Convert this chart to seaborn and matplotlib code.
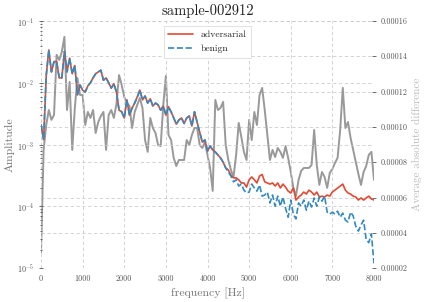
import numpy as np
import matplotlib
matplotlib.use("Agg")
import matplotlib.pyplot as plt
import matplotlib.ticker as mticker
import seaborn as sns

# ---- data ----
freq_step = 62.5
adversarial = [
    2.1e-3, 1.2e-3, 1.3e-2, 3.4e-2, 1.5e-2, 2.2e-2, 2.2e-2, 1.2e-2, 1.2e-2, 3.2e-2,
    1.5e-2, 2.5e-2, 1.4e-2, 1.9e-2, 6.4e-3, 9.2e-3, 7.6e-3, 7.1e-3, 8.9e-3, 1.0e-2,
    1.2e-2, 1.4e-2, 1.5e-2, 1.6e-2, 1.1e-2, 1.2e-2, 1.0e-2, 8.2e-3, 9.6e-3, 7.1e-3,
    3.6e-3, 3.4e-3, 2.7e-3, 5.3e-3, 3.0e-3, 3.9e-3, 4.7e-3, 5.9e-3, 7.6e-3, 5.3e-3,
    6.1e-3, 4.7e-3, 5.5e-3, 4.2e-3, 4.7e-3, 4.4e-3, 3.6e-3, 4.2e-3, 3.0e-3, 4.1e-3,
    3.4e-3, 2.7e-3, 2.15e-3, 2.5e-3, 2.7e-3, 2.2e-3, 2.7e-3, 2.9e-3, 2.0e-3, 3.4e-3,
    2.3e-3, 1.6e-3, 1.1e-3, 1.19e-3, 7.9e-4, 9.5e-4, 8.2e-4, 7.6e-4, 6.8e-4, 6.1e-4,
    5.2e-4, 4.2e-4, 3.9e-4, 3.2e-4, 2.9e-4, 2.9e-4, 2.7e-4, 2.4e-4, 2.4e-4, 2.06e-4,
    2.7e-4, 3.0e-4, 2.7e-4, 2.4e-4, 3.1e-4, 3.3e-4, 2.5e-4, 2.4e-4, 2.3e-4, 2.4e-4,
    2.14e-4, 2.4e-4, 1.99e-4, 2.3e-4, 2.06e-4, 1.77e-4, 1.65e-4, 1.99e-4, 1.27e-4, 1.42e-4,
    1.53e-4, 1.71e-4, 1.59e-4, 1.84e-4, 1.71e-4, 1.53e-4, 1.71e-4, 1.42e-4, 1.47e-4, 1.42e-4,
    1.53e-4, 1.47e-4, 1.71e-4, 1.84e-4, 1.99e-4, 2.14e-4, 2.3e-4, 1.84e-4, 1.65e-4, 1.59e-4,
    1.47e-4, 1.42e-4, 1.27e-4, 1.37e-4, 1.27e-4, 1.37e-4, 1.47e-4, 1.32e-4, 1.27e-4,
]
benign = [
    2.1e-3, 1.2e-3, 1.3e-2, 3.4e-2, 1.5e-2, 2.2e-2, 2.2e-2, 1.2e-2, 1.2e-2, 3.2e-2,
    1.5e-2, 2.5e-2, 1.4e-2, 1.9e-2, 6.4e-3, 9.2e-3, 7.6e-3, 7.1e-3, 8.9e-3, 1.0e-2,
    1.2e-2, 1.4e-2, 1.5e-2, 1.6e-2, 1.1e-2, 1.2e-2, 1.0e-2, 8.2e-3, 9.6e-3, 7.1e-3,
    3.6e-3, 3.4e-3, 2.7e-3, 5.3e-3, 3.0e-3, 3.9e-3, 4.7e-3, 5.9e-3, 7.6e-3, 5.3e-3,
    6.1e-3, 4.7e-3, 5.5e-3, 4.2e-3, 4.7e-3, 4.4e-3, 3.6e-3, 4.2e-3, 3.0e-3, 4.1e-3,
    3.4e-3, 2.7e-3, 2.15e-3, 2.5e-3, 2.7e-3, 2.2e-3, 2.7e-3, 2.9e-3, 2.0e-3, 3.4e-3,
    2.3e-3, 1.6e-3, 1.1e-3, 1.19e-3, 7.9e-4, 9.5e-4, 8.2e-4, 7.6e-4, 6.8e-4, 6.1e-4,
    5.2e-4, 4.2e-4, 3.6e-4, 3.1e-4, 2.5e-4, 2.7e-4, 2.14e-4, 2.3e-4, 1.84e-4, 1.65e-4,
    1.71e-4, 2.3e-4, 1.99e-4, 1.77e-4, 2.22e-4, 1.47e-4, 1.53e-4, 1.71e-4, 1.14e-4, 1.53e-4,
    1.01e-4, 1.47e-4, 1.01e-4, 1.42e-4, 9.4e-5, 6.7e-5, 1.27e-4, 7.5e-5, 6.3e-5, 1.14e-4,
    1.01e-4, 1.27e-4, 8.7e-5, 1.22e-4, 9.8e-5, 1.37e-4, 1.01e-4, 1.42e-4, 1.22e-4, 1.47e-4,
    8.1e-5, 7.5e-5, 8.1e-5, 7.5e-5, 8.4e-5, 6.7e-5, 7.8e-5, 6.0e-5, 5.6e-5, 8.1e-5,
    7.0e-5, 4.8e-5, 4.0e-5, 5.0e-5, 6.0e-5, 2.9e-5, 2.6e-5, 3.6e-5, 1.2e-5,
]
difference = [
    2.9e-5, 8.70e-5, 10.11e-5, 10.96e-5, 10.40e-5, 10.68e-5, 14.08e-5, 13.79e-5, 14.25e-5, 15.10e-5,
    10.96e-5, 12.55e-5, 8.70e-5, 11.08e-5, 12.77e-5, 11.81e-5, 11.81e-5, 10.11e-5, 10.85e-5, 10.51e-5,
    10.96e-5, 9.66e-5, 10.28e-5, 10.62e-5, 10.85e-5, 8.70e-5, 10.68e-5, 10.96e-5, 10.51e-5, 11.30e-5,
    12.94e-5, 12.38e-5, 11.70e-5, 11.36e-5, 11.19e-5, 9.94e-5, 10.85e-5, 11.25e-5, 11.64e-5, 11.08e-5,
    9.26e-5, 8.59e-5, 10.51e-5, 9.94e-5, 9.66e-5, 8.98e-5, 8.92e-5, 11.25e-5, 12.89e-5, 9.55e-5,
    9.26e-5, 8.25e-5, 7.79e-5, 8.13e-5, 8.13e-5, 8.13e-5, 9.26e-5, 8.98e-5, 9.55e-5, 9.94e-5,
    9.94e-5, 8.98e-5, 8.81e-5, 9.15e-5, 8.42e-5, 7.68e-5, 6.38e-5, 11.53e-5, 10.96e-5, 11.08e-5,
    11.42e-5, 8.98e-5, 8.13e-5, 7.57e-5, 7.17e-5, 8.42e-5, 10.23e-5, 9.43e-5, 8.59e-5, 8.13e-5,
    10.40e-5, 9.26e-5, 10.85e-5, 10.11e-5, 11.81e-5, 12.21e-5, 10.96e-5, 9.55e-5, 8.13e-5, 8.70e-5,
    8.30e-5, 8.81e-5, 8.59e-5, 8.25e-5, 8.92e-5, 8.25e-5, 7.45e-5, 6.55e-5, 6.09e-5, 7.00e-5,
    7.51e-5, 7.68e-5, 7.68e-5, 7.68e-5, 7.85e-5, 9.83e-5, 7.85e-5, 6.72e-5, 7.45e-5, 7.17e-5,
    6.55e-5, 7.40e-5, 7.62e-5, 7.96e-5, 8.25e-5, 9.83e-5, 12.21e-5, 9.94e-5, 10.28e-5, 9.38e-5,
    8.70e-5, 8.02e-5, 7.34e-5, 6.72e-5, 7.45e-5, 7.79e-5, 8.42e-5, 8.59e-5, 7.00e-5,
]
frequency = [i * freq_step for i in range(len(adversarial))]
x_ticks = [0, 1000, 2000, 3000, 4000, 5000, 6000, 7000, 8000]
right_ticks = [2e-5, 4e-5, 6e-5, 8e-5, 1e-4, 1.2e-4, 1.4e-4, 1.6e-4]
title = "sample-002912"

# ---- style ----
sns.set_theme(style="white")
plt.rcParams["font.family"] = ["cmr10", "DejaVu Serif"]
plt.rcParams["mathtext.fontset"] = "cm"
plt.rcParams["axes.formatter.use_mathtext"] = True
plt.rcParams["axes.unicode_minus"] = False

RED = "#E24A33"
BLUE = "#348ABD"
GRAY = "#999999"
TICK_C = "#555555"

fig = plt.figure(figsize=(4.25, 3.02), dpi=100)
ax = fig.add_axes([0.0965, 0.1116, 0.7835, 0.819])
ax2 = ax.twinx()

sns.lineplot(x=frequency, y=difference, ax=ax2, color=GRAY, linewidth=1.4, legend=False)
sns.lineplot(x=frequency, y=adversarial, ax=ax, color=RED, linewidth=1.2, label="adversarial")
sns.lineplot(x=frequency, y=benign, ax=ax, color=BLUE, linewidth=1.2, linestyle="--", label="benign")

ax.set_zorder(ax2.get_zorder() + 1)
ax.patch.set_visible(False)

ax.set_yscale("log")
ax.set_ylim(1e-5, 1e-1)
ax.set_xlim(0, 8000)
ax.set_xticks(x_ticks)
ax.set_xticklabels([str(t) for t in x_ticks])
ax2.set_ylim(2e-5, 1.6e-4)
ax2.set_yticks(right_ticks)
ax2.yaxis.set_major_formatter(mticker.FormatStrFormatter("%.5f"))

for a in (ax, ax2):
    for s in a.spines.values():
        s.set_visible(False)
    a.tick_params(which="both", direction="inout", colors=TICK_C, labelsize=5.8,
                  width=0.6, pad=3)
    a.tick_params(which="major", length=3.5)
    a.tick_params(which="minor", length=2)

ax.grid(True, which="major", axis="both", linestyle=(0, (4, 3)), color="#cccccc", linewidth=0.6)
ax2.grid(True, which="major", axis="y", linestyle=(0, (4, 3)), color="#cccccc", linewidth=0.6)
ax.set_axisbelow(True)

ax.set_title(title, fontsize=10.5, color="#222222", pad=4)
ax.set_xlabel("frequency [Hz]", fontsize=8.5, color="#777777", labelpad=3)
ax.set_ylabel("Amplitude", fontsize=8.5, color="#777777", labelpad=2)
ax2.set_ylabel("Average absolute difference", fontsize=8, color="#bbbbbb", labelpad=3)

leg = ax.legend(loc="upper center", bbox_to_anchor=(0.5, 1.0), fontsize=7, frameon=True,
                fancybox=False, edgecolor="#dddddd", framealpha=1.0, handlelength=2.5,
                borderpad=0.5, labelspacing=0.5)
leg.get_frame().set_linewidth(0.6)

fig.savefig("out.png", dpi=100)
